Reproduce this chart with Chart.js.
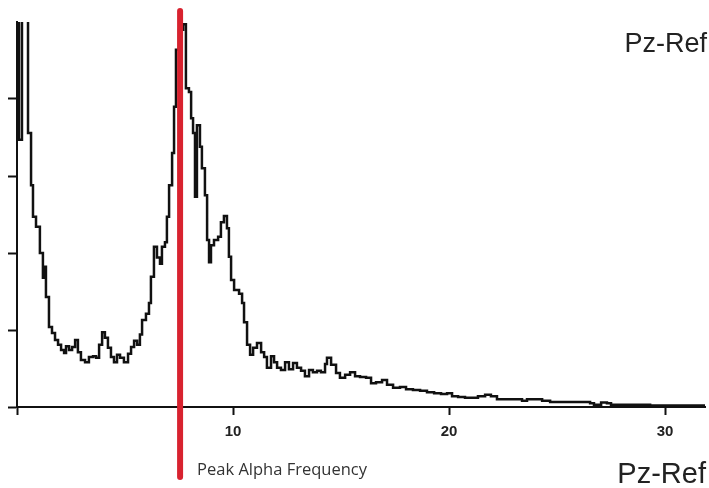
<!DOCTYPE html>
<html>
<head>
<meta charset="utf-8">
<script src="https://cdn.jsdelivr.net/npm/chart.js@4/dist/chart.umd.min.js"></script>
<style>
  html, body { margin: 0; padding: 0; background: #ffffff; }
  #wrap { width: 709px; height: 488px; }
</style>
</head>
<body>
<div id="wrap"><canvas id="c" width="709" height="488"></canvas></div>
<script>
// ---- Data (frequency in Hz, power in arbitrary units) ----
const frequencies = [
  0, 0.09, 0.23, 0.51, 0.65, 0.74, 0.88, 1.06, 1.20, 1.25, 1.34, 1.48, 1.62, 1.76, 1.90,
  2.04, 2.18, 2.27, 2.41, 2.55, 2.69, 2.82, 2.96, 3.15, 3.33, 3.52, 3.66, 3.80, 3.94, 4.07,
  4.21, 4.35, 4.49, 4.63, 4.77, 4.95, 5.14, 5.28, 5.42, 5.56, 5.69, 5.79, 5.97, 6.11, 6.20,
  6.34, 6.48, 6.62, 6.71, 6.85, 6.94, 7.04, 7.18, 7.27, 7.36, 7.50, 7.69, 7.82, 7.96, 8.06,
  8.15, 8.24, 8.33, 8.47, 8.56, 8.70, 8.80, 8.89, 8.98, 9.12, 9.31, 9.44, 9.58, 9.72, 9.81,
  9.91, 10.05, 10.28, 10.42, 10.51, 10.65, 10.79, 10.93, 11.11, 11.30, 11.44, 11.57, 11.76, 11.90, 12.04,
  12.22, 12.41, 12.59, 12.78, 12.96, 13.15, 13.33, 13.52, 13.70, 13.89, 14.07, 14.26, 14.35, 14.54, 14.77,
  14.95, 15.19, 15.42, 15.65, 15.88, 16.16, 16.39, 16.62, 16.90, 17.13, 17.41, 17.73, 18.01, 18.33, 18.66,
  18.98, 19.31, 19.63, 19.91, 20.14, 20.42, 20.74, 21.06, 21.34, 21.67, 21.94, 22.22, 22.59, 23.06, 23.38,
  23.61, 23.98, 24.31, 24.68, 25.60, 26.53, 26.71, 27.04, 27.31, 27.50, 29.31, 31.85
];
const power = [
  6.5, 3.47, 6.5, 3.56, 2.88, 2.47, 2.34, 2.00, 1.68, 1.82, 1.43, 1.04, 0.96, 0.87, 0.81,
  0.74, 0.70, 0.79, 0.74, 0.78, 0.87, 0.71, 0.61, 0.58, 0.65, 0.66, 0.64, 0.81, 0.97, 0.90,
  0.77, 0.65, 0.58, 0.68, 0.64, 0.58, 0.69, 0.78, 0.86, 0.81, 0.94, 1.13, 1.21, 1.35, 1.69,
  2.08, 1.94, 1.86, 2.08, 2.14, 2.47, 2.88, 3.30, 3.90, 4.64, 4.90, 4.97, 4.14, 4.09, 3.75,
  3.56, 2.73, 3.66, 3.38, 3.10, 2.75, 2.17, 1.88, 2.10, 2.17, 2.21, 2.40, 2.48, 2.32, 1.95,
  1.65, 1.52, 1.47, 1.35, 1.10, 0.81, 0.68, 0.77, 0.83, 0.71, 0.65, 0.51, 0.66, 0.58, 0.51,
  0.48, 0.58, 0.49, 0.57, 0.51, 0.47, 0.40, 0.48, 0.45, 0.47, 0.45, 0.56, 0.64, 0.55, 0.44,
  0.38, 0.42, 0.45, 0.40, 0.39, 0.38, 0.31, 0.32, 0.35, 0.29, 0.25, 0.26, 0.23, 0.22, 0.21,
  0.19, 0.18, 0.17, 0.18, 0.14, 0.13, 0.12, 0.12, 0.14, 0.16, 0.14, 0.10, 0.10, 0.10, 0.08,
  0.10, 0.10, 0.08, 0.065, 0.065, 0.05, 0.03, 0.06, 0.05, 0.03, 0.02, 0.02
];
const xTickValues = [0, 10, 20, 30];
const xTickLabels = ['', '10', '20', '30'];
const yTickValues = [0, 1, 2, 3, 4];
const xRange = [0, 31.85];
const yRange = [0, 5];
const peakAlphaFrequency = 7.55;
const peakLabel = 'Peak Alpha Frequency';
const channelLabel = 'Pz-Ref';

const points = frequencies.map((f, i) => ({ x: f, y: power[i] }));

const annotations = {
  id: 'annotations',
  afterDatasetsDraw(chart) {
    const { ctx, chartArea, scales } = chart;
    const px = scales.x.getPixelForValue(peakAlphaFrequency);
    ctx.save();
    // red peak alpha line
    ctx.strokeStyle = '#d8222f';
    ctx.lineWidth = 6;
    ctx.lineCap = 'round';
    ctx.beginPath();
    ctx.moveTo(px, chartArea.top - 11);
    ctx.lineTo(px, chartArea.bottom + 70);
    ctx.stroke();
    // texts
    ctx.fillStyle = '#333333';
    ctx.textBaseline = 'alphabetic';
    ctx.textAlign = 'left';
    ctx.font = '16.5px "Open Sans", "Liberation Sans", sans-serif';
    ctx.fillText(peakLabel, px + 17, chartArea.bottom + 68);
    ctx.fillStyle = '#222222';
    ctx.textAlign = 'right';
    ctx.font = '27px "Liberation Sans", Arial, sans-serif';
    ctx.fillText(channelLabel, chart.width - 2, chartArea.top + 30);
    ctx.font = '29px "Liberation Sans", Arial, sans-serif';
    ctx.fillText(channelLabel, chart.width - 3, chart.height - 5);
    ctx.restore();
  }
};

new Chart(document.getElementById('c'), {
  type: 'line',
  data: {
    datasets: [{
      data: points,
      borderColor: '#111111',
      borderWidth: 2.5,
      pointRadius: 0,
      stepped: true,
      fill: false,
      tension: 0
    }]
  },
  options: {
    responsive: false,
    devicePixelRatio: 1,
    animation: false,
    events: [],
    layout: { padding: { top: 22, right: 4, left: 0, bottom: 0 } },
    plugins: { legend: { display: false }, tooltip: { enabled: false }, title: { display: false } },
    scales: {
      x: {
        type: 'linear',
        min: xRange[0],
        max: xRange[1],
        afterBuildTicks: s => { s.ticks = xTickValues.map(v => ({ value: v })); },
        afterFit: s => { s.height = 81; },
        ticks: {
          autoSkip: false,
          maxRotation: 0,
          callback: (v) => xTickLabels[xTickValues.indexOf(v)],
          color: '#222222',
          font: { family: '"Liberation Sans", Arial, sans-serif', size: 15, weight: 'bold' },
          padding: 8
        },
        grid: { drawOnChartArea: false, drawTicks: true, tickLength: 8, tickColor: '#111111', tickWidth: 2 },
        border: { display: true, color: '#111111', width: 2 }
      },
      y: {
        type: 'linear',
        min: yRange[0],
        max: yRange[1],
        afterBuildTicks: s => { s.ticks = yTickValues.map(v => ({ value: v })); },
        afterFit: s => { s.width = 17; },
        ticks: { display: false },
        grid: { drawOnChartArea: false, drawTicks: true, tickLength: 9, tickColor: '#111111', tickWidth: 2 },
        border: { display: true, color: '#111111', width: 2 }
      }
    }
  },
  plugins: [annotations]
});
</script>
</body>
</html>
